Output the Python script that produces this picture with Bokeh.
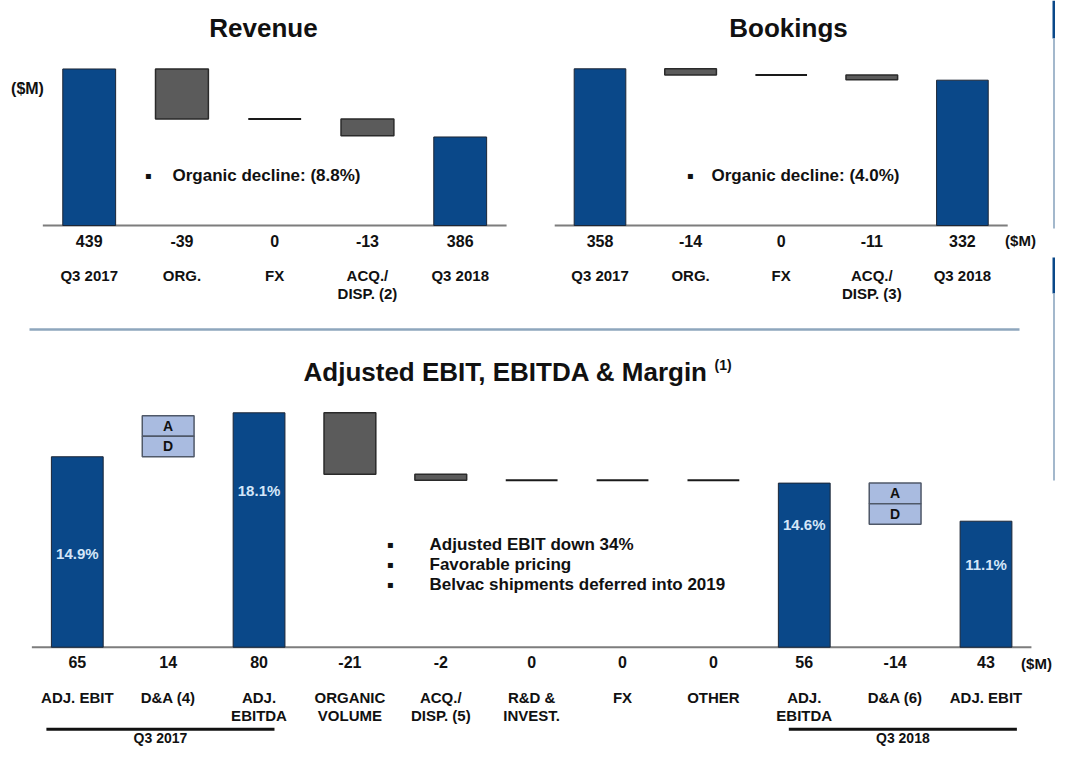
from bokeh.plotting import figure
from bokeh.models import Range1d
from bokeh.core.properties import value
from bokeh.embed import file_html
from bokeh.resources import INLINE

# ---------------- data ----------------
rev_categories = ["Q3 2017", "ORG.", "FX", "ACQ./\nDISP. (2)", "Q3 2018"]
rev_values = [439, -39, 0, -13, 386]
rev_kinds = ["total", "delta", "delta", "delta", "total"]

bk_categories = ["Q3 2017", "ORG.", "FX", "ACQ./\nDISP. (3)", "Q3 2018"]
bk_values = [358, -14, 0, -11, 332]
bk_kinds = ["total", "delta", "delta", "delta", "total"]

eb_categories = ["ADJ. EBIT", "D&A (4)", "ADJ.\nEBITDA", "ORGANIC\nVOLUME", "ACQ./\nDISP. (5)",
                 "R&D &\nINVEST.", "FX", "OTHER", "ADJ.\nEBITDA", "D&A (6)", "ADJ. EBIT"]
eb_values = [65, 14, 80, -21, -2, 0, 0, 0, 56, -14, 43]
eb_kinds = ["total", "da", "total", "delta", "delta", "delta", "delta", "delta", "total", "da", "total"]
eb_margins = ["14.9%", "", "18.1%", "", "", "", "", "", "14.6%", "", "11.1%"]
eb_groups = [("Q3 2017", 0, 2), ("Q3 2018", 8, 10)]

rev_note = "Organic decline: (8.8%)"
bk_note = "Organic decline: (4.0%)"
eb_notes = ["Adjusted EBIT down 34%", "Favorable pricing", "Belvac shipments deferred into 2019"]

# ---------------- style / layout ----------------
W, H = 1055, 747
X0, Y0 = 0, 0
FONT = value("Liberation Sans")
BLUE = "#0a4889"
BAR_EDGE = "#1c2636"
GRAY = "#5b5b5b"
GRAY_EDGE = "#2a2a2a"
LIGHT = "#a9bbe0"
LIGHT_EDGE = "#4f5868"
PCT = "#d4e6f8"
TXT = "#111111"
BAR_W = 0.57

GEOM = {
    "rev": dict(c0=88.7, step=92.75, base_px=225.0, base_val=317.0, ppu=1.283),
    "bk": dict(c0=599.5, step=90.6, base_px=225.0, base_val=0.0, ppu=0.4377),
    "eb": dict(c0=76.8, step=90.87, base_px=646.7, base_val=0.0, ppu=2.93),
}
MARGIN_FRAC = 0.49, 0.67, 0.75, 0.66
BRACKET_PAD = [(0.34, 0.17), (0.17, 0.34)]

p = figure(width=W, height=H, x_range=Range1d(X0, X0 + W), y_range=Range1d(Y0 + H, Y0),
           output_backend="svg", toolbar_location=None,
           x_axis_location=None, y_axis_location=None, min_border=0,
           outline_line_color=None, background_fill_color="white", border_fill_color="white")
p.grid.visible = False

xr, yr = {}, {}
for name, g in GEOM.items():
    xr[name] = Range1d(start=(X0 - g["c0"]) / g["step"], end=(X0 + W - g["c0"]) / g["step"])
    yr[name] = Range1d(start=g["base_val"] - (Y0 + H - g["base_px"]) / g["ppu"],
                       end=g["base_val"] + (g["base_px"] - Y0) / g["ppu"])
p.extra_x_ranges = xr
p.extra_y_ranges = yr


def waterfall(vals, kinds, base):
    bottoms, tops, level = [], [], base
    for v, k in zip(vals, kinds):
        if k == "total":
            bottoms.append(base)
            tops.append(v)
            level = v
        else:
            bottoms.append(level)
            tops.append(level + v)
            level = level + v
    return bottoms, tops


def below(name, px):
    g = GEOM[name]
    return g["base_val"] - px / g["ppu"]


def txt(xs, ys, texts, size, color=TXT, align="center", style="bold", font=FONT, **kw):
    p.text(x=xs, y=ys, text=texts, text_font=font, text_font_style=style,
           text_font_size=size, text_color=color, text_align=align,
           text_baseline="middle", **kw)


def draw(name, cats, vals, kinds, margins=None):
    g = GEOM[name]
    kw = dict(x_range_name=name, y_range_name=name)
    n = len(vals)
    idx = list(range(n))
    bottoms, tops = waterfall(vals, kinds, g["base_val"])

    # baseline
    p.segment(x0=[-0.5], x1=[n - 0.5], y0=[g["base_val"]], y1=[g["base_val"]],
              line_color="#7d7d7d", line_width=2, **kw)

    tot = [i for i in idx if kinds[i] == "total"]
    p.vbar(x=tot, bottom=[bottoms[i] for i in tot], top=[tops[i] for i in tot], width=BAR_W,
           fill_color=BLUE, line_color=BAR_EDGE, line_width=1, **kw)

    dl = [i for i in idx if kinds[i] == "delta" and vals[i] != 0]
    p.vbar(x=dl, bottom=[bottoms[i] for i in dl], top=[tops[i] for i in dl], width=BAR_W,
           fill_color=GRAY, line_color=GRAY_EDGE, line_width=1.5, **kw)

    zl = [i for i in idx if kinds[i] == "delta" and vals[i] == 0]
    p.segment(x0=[i - BAR_W / 2 for i in zl], x1=[i + BAR_W / 2 for i in zl],
              y0=[tops[i] for i in zl], y1=[tops[i] for i in zl],
              line_color="#1a1a1a", line_width=2, **kw)

    da = [i for i in idx if kinds[i] == "da"]
    hi = [max(bottoms[i], tops[i]) for i in da]
    lo = [min(bottoms[i], tops[i]) for i in da]
    mid = [(a + b) / 2 for a, b in zip(hi, lo)]
    p.vbar(x=da + da, bottom=mid + lo, top=hi + mid, width=BAR_W,
           fill_color=LIGHT, line_color=LIGHT_EDGE, line_width=1.5, **kw)
    txt(da, [(a + b) / 2 for a, b in zip(hi, mid)], ["A"] * len(da), "14px", **kw)
    txt(da, [(a + b) / 2 for a, b in zip(mid, lo)], ["D"] * len(da), "14px", **kw)

    # value labels
    txt(idx, [below(name, 15)] * n, [str(v) for v in vals], "16px", **kw)

    # category labels (one text per line)
    lx, ly, lt = [], [], []
    for i, c in enumerate(cats):
        for k, line in enumerate(c.split("\n")):
            lx.append(i)
            ly.append(below(name, 50 + 17.8 * k))
            lt.append(line)
    txt(lx, ly, lt, "15px", **kw)

    if margins is not None:
        mi = [i for i in idx if margins[i]]
        txt(mi, [tops[i] * f for i, f in zip(mi, MARGIN_FRAC)], [margins[i] for i in mi],
            "15px", color=PCT, **kw)


draw("rev", rev_categories, rev_values, rev_kinds)
draw("bk", bk_categories, bk_values, bk_kinds)
draw("eb", eb_categories, eb_values, eb_kinds, eb_margins)

# group brackets under the EBIT chart
for (label, a, b), (pl, pr) in zip(eb_groups, BRACKET_PAD):
    yb = below("eb", 82)
    p.segment(x0=[a - pl], x1=[b + pr], y0=[yb], y1=[yb], line_color="#111111", line_width=3,
              x_range_name="eb", y_range_name="eb")
    txt([(a - pl + b + pr) / 2], [below("eb", 91)], [label], "14px",
        x_range_name="eb", y_range_name="eb")

# titles
txt([263], [27], ["Revenue"], "26px")
txt([788], [27], ["Bookings"], "26px")
txt([303], [371], ["Adjusted EBIT, EBITDA & Margin"], "26px", align="left")
txt([714], [364], ["(1)"], "14px", align="left")

# units
txt([27], [88], ["($M)"], "16px")
txt([1020], [240], ["($M)"], "15px")
txt([1036], [663], ["($M)"], "15px")

# notes
BUL = value("DejaVu Sans")
txt([148, 690], [175, 175], ["\u25aa", "\u25aa"], "10px", font=BUL)
txt([172, 711], [175, 175], [rev_note, bk_note], "17px", align="left")
txt([390] * 3, [544, 564, 584], ["\u25aa"] * 3, "10px", font=BUL)
txt([429] * 3, [544, 564, 584], eb_notes, "17px", align="left")

# separator and side panel
p.segment(x0=[29], x1=[1019], y0=[329], y1=[329], line_color="#8ea6bd", line_width=2.5)
p.quad(left=[1052, 1052], right=[1080, 1080], top=[0, 257], bottom=[38, 293], fill_color=BLUE, line_color=None)
p.segment(x0=[1053.5, 1053.5], x1=[1053.5, 1053.5], y0=[38, 293], y1=[228, 480],
          line_color="#a3b8cc", line_width=2)

open("out.html", "w").write(file_html(p, INLINE))
